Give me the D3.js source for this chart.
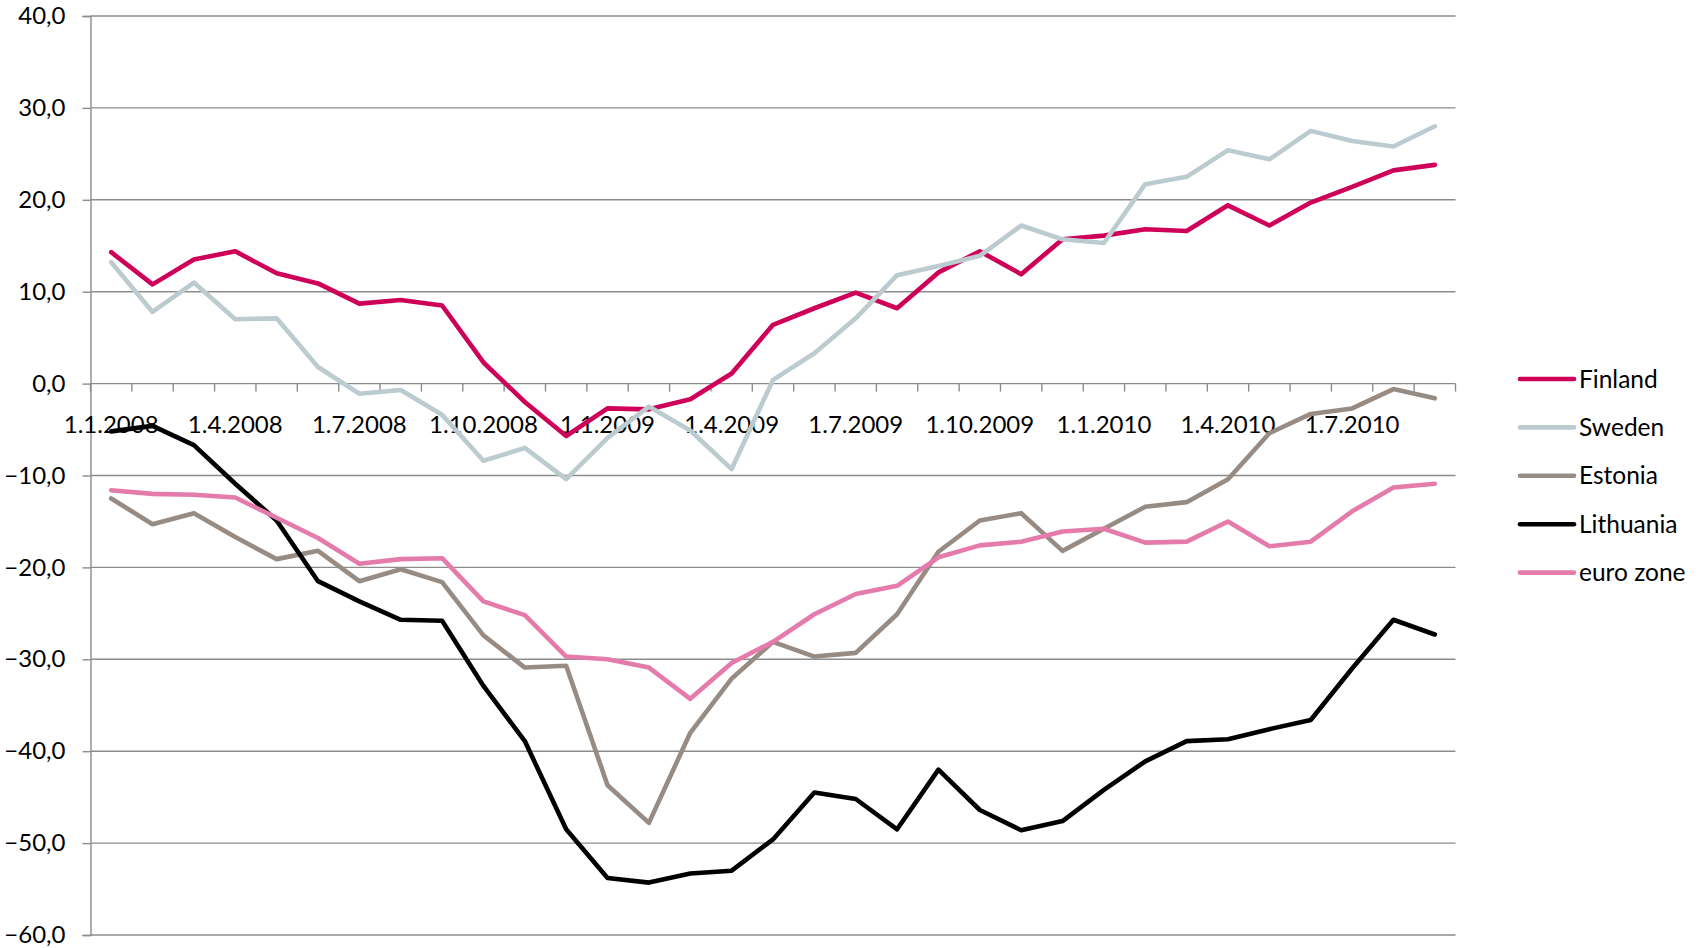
<!DOCTYPE html>
<html>
<head>
<meta charset="utf-8">
<script src="https://cdn.jsdelivr.net/npm/d3@7/dist/d3.min.js"></script>
<style>
  html, body { margin: 0; padding: 0; background: #fff; }
  svg { display: block; font-family: Lato, "Open Sans", sans-serif; }
</style>
</head>
<body>
<svg id="chart" width="1704" height="948"></svg>
<script>
// Monthly observations, January 2008 – September 2010
const months = [
  "1.1.2008","1.2.2008","1.3.2008","1.4.2008","1.5.2008","1.6.2008",
  "1.7.2008","1.8.2008","1.9.2008","1.10.2008","1.11.2008","1.12.2008",
  "1.1.2009","1.2.2009","1.3.2009","1.4.2009","1.5.2009","1.6.2009",
  "1.7.2009","1.8.2009","1.9.2009","1.10.2009","1.11.2009","1.12.2009",
  "1.1.2010","1.2.2010","1.3.2010","1.4.2010","1.5.2010","1.6.2010",
  "1.7.2010","1.8.2010","1.9.2010"
];
const xTickLabels = ["1.1.2008","1.4.2008","1.7.2008","1.10.2008","1.1.2009","1.4.2009",
                     "1.7.2009","1.10.2009","1.1.2010","1.4.2010","1.7.2010"];
const yTicks = [40, 30, 20, 10, 0, -10, -20, -30, -40, -50, -60];

const finland = [14.3,10.8,13.5,14.4,12.0,10.9,8.7,9.1,8.5,2.3,-2.0,-5.7,-2.7,-2.8,-1.7,1.1,
                 6.4,8.2,9.9,8.2,12.1,14.4,11.9,15.7,16.1,16.8,16.6,19.4,17.2,19.7,21.4,23.2,23.8];
const sweden  = [13.2,7.8,11.0,7.0,7.1,1.8,-1.1,-0.7,-3.4,-8.4,-7.0,-10.4,-5.9,-2.5,-5.1,-9.3,
                 0.4,3.3,7.1,11.8,12.8,13.9,17.2,15.7,15.3,21.7,22.5,25.4,24.4,27.5,26.4,25.8,28.0];
const estonia = [-12.5,-15.3,-14.1,-16.7,-19.1,-18.2,-21.5,-20.2,-21.6,-27.4,-30.9,-30.7,-43.7,-47.8,-38.0,-32.1,
                 -28.1,-29.7,-29.3,-25.1,-18.3,-14.9,-14.1,-18.2,-15.8,-13.4,-12.9,-10.4,-5.4,-3.3,-2.7,-0.6,-1.6];
const lithuania = [-5.2,-4.6,-6.7,-10.9,-14.9,-21.5,-23.7,-25.7,-25.8,-32.9,-38.9,-48.5,-53.8,-54.3,-53.3,-53.0,
                   -49.6,-44.5,-45.2,-48.5,-42.0,-46.4,-48.6,-47.6,-44.2,-41.1,-38.9,-38.7,-37.6,-36.6,-31.0,-25.7,-27.3];
const euroZone = [-11.6,-12.0,-12.1,-12.4,-14.6,-16.8,-19.6,-19.1,-19.0,-23.7,-25.2,-29.7,-30.0,-30.9,-34.3,-30.4,
                  -28.1,-25.1,-22.9,-22.0,-18.9,-17.6,-17.2,-16.1,-15.8,-17.3,-17.2,-15.0,-17.7,-17.2,-13.9,-11.3,-10.9];

const seriesNames = ["Finland", "Sweden", "Estonia", "Lithuania", "euro zone"];
const seriesValues = [finland, sweden, estonia, lithuania, euroZone];
const seriesColors = ["#CE0058", "#BCCBCF", "#978C84", "#000000", "#E57BAA"];

const svg = d3.select("#chart");
const plot = { left: 90.5, right: 1455.5, top: 16, bottom: 935 };
const gridColor = "#8C8C8C";
const fontSize = 24;

const x = d3.scaleBand().domain(months).range([plot.left, plot.right]).padding(0);
const y = d3.scaleLinear().domain([-60, 40]).range([plot.bottom, plot.top]);
const cx = m => x(m) + x.bandwidth() / 2;

// Horizontal gridlines
svg.append("g")
  .selectAll("line")
  .data(yTicks)
  .join("line")
  .attr("x1", plot.left).attr("x2", plot.right)
  .attr("y1", d => y(d)).attr("y2", d => y(d))
  .attr("stroke", gridColor).attr("stroke-width", 1.4);

// Value axis (left)
const yAxis = d3.axisLeft(y)
  .tickValues(yTicks)
  .tickSize(8)
  .tickPadding(17)
  .tickFormat(d => d3.format(".1f")(d).replace(".", ","));
const gy = svg.append("g").attr("transform", `translate(${plot.left},0)`).call(yAxis);
gy.select(".domain").attr("stroke", gridColor).attr("stroke-width", 1.4);
gy.selectAll(".tick line").attr("stroke", gridColor).attr("stroke-width", 1.4);
gy.selectAll(".tick text")
  .attr("fill", "#000").style("font-size", fontSize + "px").style("font-family", "Lato, sans-serif");

// Category axis crossing at zero, ticks between categories
const y0 = y(0);
const boundaries = d3.range(months.length + 1).map(i => plot.left + i * x.bandwidth());
svg.append("g")
  .selectAll("line")
  .data(boundaries)
  .join("line")
  .attr("x1", d => d).attr("x2", d => d)
  .attr("y1", y0).attr("y2", y0 + 8)
  .attr("stroke", gridColor).attr("stroke-width", 1.4);

const xAxis = d3.axisBottom(x).tickValues(xTickLabels).tickSize(0).tickPadding(32);
const gx = svg.append("g").attr("transform", `translate(0,${y0})`).call(xAxis);
gx.select(".domain").remove();
gx.selectAll(".tick text")
  .attr("fill", "#000").style("font-size", fontSize + "px").style("font-family", "Lato, sans-serif");

// Series lines
const line = d3.line().x((d, i) => cx(months[i])).y(d => y(d));
svg.append("g")
  .selectAll("path")
  .data(seriesValues)
  .join("path")
  .attr("d", d => line(d))
  .attr("fill", "none")
  .attr("stroke", (d, i) => seriesColors[i])
  .attr("stroke-width", 4.6)
  .attr("stroke-linejoin", "round")
  .attr("stroke-linecap", "round");

// Legend
const legend = svg.append("g").attr("transform", "translate(1520,379)");
const rows = legend.selectAll("g")
  .data(seriesNames)
  .join("g")
  .attr("transform", (d, i) => `translate(0,${i * 48.4})`);
rows.append("line")
  .attr("x1", 0).attr("x2", 54).attr("y1", 0).attr("y2", 0)
  .attr("stroke", (d, i) => seriesColors[i])
  .attr("stroke-width", 4.6).attr("stroke-linecap", "round");
rows.append("text")
  .attr("x", 59).attr("y", 0).attr("dy", "0.35em")
  .style("font-size", "24.5px")
  .attr("fill", "#000")
  .text(d => d);
</script>
</body>
</html>
